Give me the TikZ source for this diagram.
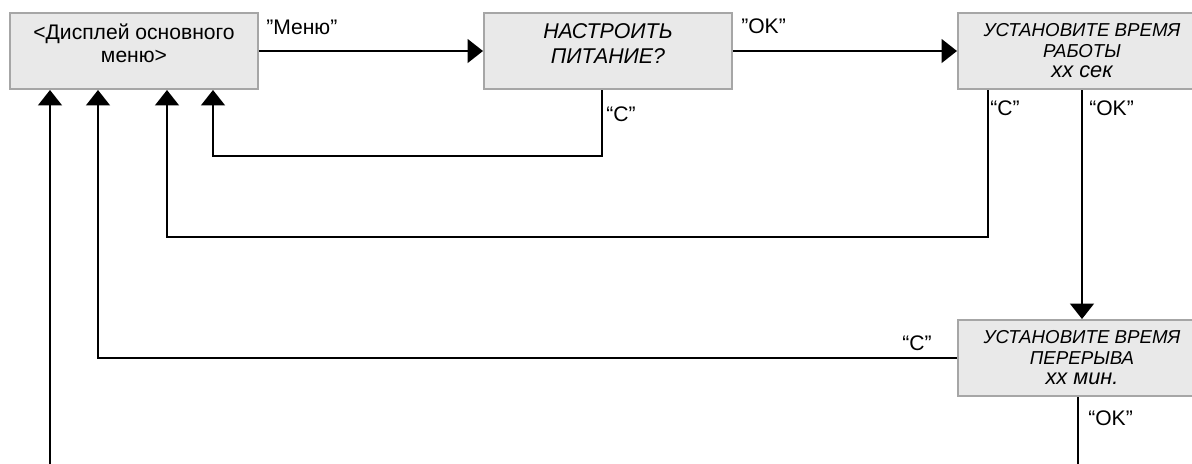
\documentclass[tikz,border=0pt]{standalone}
\usepackage{fontspec}
\setmainfont{Liberation Sans}
\usetikzlibrary{arrows.meta,positioning,calc}
\tikzset{>={Triangle[length=11pt,width=17pt]}}

\begin{document}
\begin{tikzpicture}[x=0.025cm,y=-0.025cm,
  screen/.style={draw=gray!70,line width=1.4pt,fill=gray!17,
    minimum width=6.2cm,minimum height=1.9cm,align=center,
    font=\fontsize{15}{16.2}\selectfont},
  setscreen/.style={screen,font=\fontsize{13.3}{14.6}\selectfont\itshape},
  key/.style={font=\fontsize{15}{16}\selectfont,inner sep=0pt,anchor=west},
  link/.style={line width=1.4pt,->}]
\useasboundingbox (0,0) rectangle (1192,463);
% screens
\node[screen] (menu) at (134,51) {<Дисплей основного\\меню>\rule[-10.6pt]{0pt}{0pt}};
\node[screen,font=\fontsize{15.2}{17.8}\selectfont\itshape] (power) at (608,51)
  {НАСТРОИТЬ\\ПИТАНИЕ?\rule[-10pt]{0pt}{0pt}};
\node[setscreen] (worktime) at (1082,51)
  {УСТАНОВИТЕ ВРЕМЯ\\РАБОТЫ\\{\fontsize{15.5}{14.6}\selectfont xx сек}};
\node[setscreen] (pausetime) at (1082,358)
  {УСТАНОВИТЕ ВРЕМЯ\\ПЕРЕРЫВА\\{\fontsize{15.5}{14.6}\selectfont xx мин.}};
% key labels
\node[key] (kmenu) at (266,27) {"Меню"};
\node[key] (kok) at (741,26) {”OK”};
\node[key] (kc) at (606,114) {“C”};
\node[key] (kcwork) at (990,108) {“C”};
\node[key] (kokwork) at (1089,108) {“OK”};
\node[key] (kcpause) at (902,343) {“C”};
\node[key] (kokpause) at (1088,418) {“OK”};
% connectors
\draw[link] (menu.east) -- (power.west);
\draw[link] (power.east) -- (worktime.west);
\draw[link] ($(power.south)+(-6,0)$) -- ++(0,66) -| ($(menu.south)+(79,0)$);
\draw[link] ($(worktime.south)+(-94,0)$) -- ++(0,147) -| ($(menu.south)+(33,0)$);
\draw[link] (worktime.south) -- (pausetime.north);
\draw[link] (pausetime.west) -| ($(menu.south)+(-36,0)$);
\coordinate (pauseend) at (1078,470);
\coordinate (loopend) at (50,470);
\draw[line width=1.4pt] ($(pausetime.south)+(-4,0)$) -- (pauseend);
\draw[link] (loopend) -- ($(menu.south)+(-84,0)$);
\end{tikzpicture}
\end{document}
